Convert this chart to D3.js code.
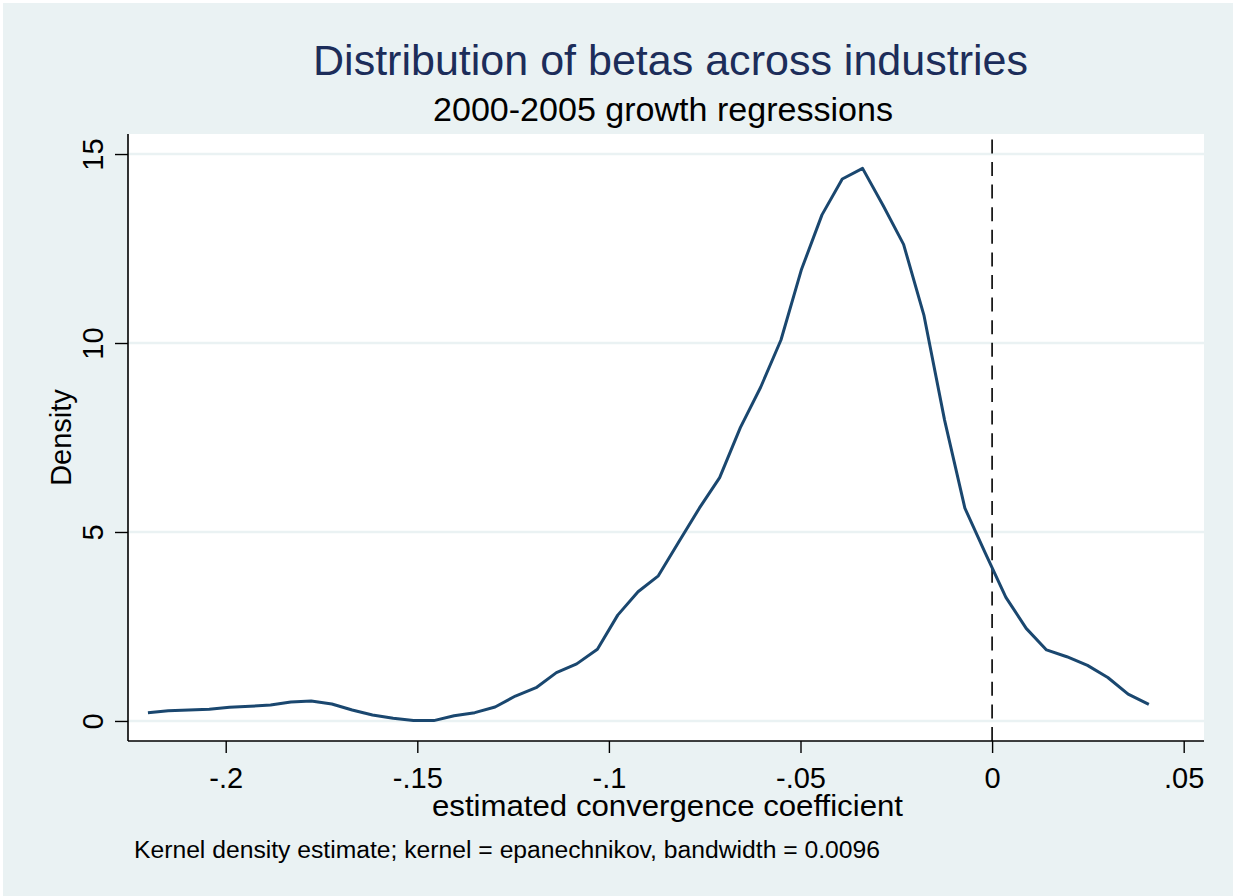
<!DOCTYPE html>
<html>
<head>
<meta charset="utf-8">
<script src="https://cdn.jsdelivr.net/npm/d3@7"></script>
<style>
  body { margin: 0; background: #ffffff; }
  svg { display: block; font-family: "Liberation Sans", Arial, sans-serif; }
</style>
</head>
<body>
<svg id="chart" width="1233" height="896"></svg>
<script>
// kernel density grid points (x) and estimated density (y)
var betaX = [-0.2203, -0.2150, -0.2096, -0.2043, -0.1990, -0.1936, -0.1883, -0.1830, -0.1777, -0.1723,
             -0.1670, -0.1617, -0.1563, -0.1510, -0.1457, -0.1404, -0.1350, -0.1297, -0.1244, -0.1190,
             -0.1137, -0.1084, -0.1030, -0.0977, -0.0924, -0.0871, -0.0817, -0.0764, -0.0711, -0.0657,
             -0.0604, -0.0551, -0.0498, -0.0444, -0.0391, -0.0338, -0.0284, -0.0231, -0.0178, -0.0124,
             -0.0071, -0.0018, 0.0036, 0.0089, 0.0142, 0.0195, 0.0249, 0.0302, 0.0355, 0.0409];
var densityY = [0.22, 0.27, 0.29, 0.31, 0.36, 0.39, 0.42, 0.50, 0.53, 0.45,
                0.29, 0.16, 0.07, 0.01, 0.01, 0.14, 0.22, 0.37, 0.66, 0.88,
                1.28, 1.51, 1.90, 2.80, 3.42, 3.84, 4.75, 5.63, 6.44, 7.76,
                8.83, 10.08, 11.93, 13.39, 14.34, 14.62, 13.63, 12.61, 10.74, 7.96,
                5.63, 4.45, 3.27, 2.45, 1.88, 1.70, 1.47, 1.15, 0.71, 0.44];

var xTicks = [-0.2, -0.15, -0.1, -0.05, 0, 0.05];
var xTickLabels = ["-.2", "-.15", "-.1", "-.05", "0", ".05"];
var yTicks = [0, 5, 10, 15];
var yTickLabels = ["0", "5", "10", "15"];
var refLineX = 0;

var titleText = "Distribution of betas across industries";
var subtitleText = "2000-2005 growth regressions";
var xTitle = "estimated convergence coefficient";
var yTitle = "Density";
var noteText = "Kernel density estimate; kernel = epanechnikov, bandwidth = 0.0096";

var bg = "#eaf2f3",
    lineColor = "#1a476f";

var plot = {left: 128, right: 1204, top: 134, bottom: 741};

var svg = d3.select("#chart");

// graph region
svg.append("rect")
    .attr("x", 3).attr("y", 3)
    .attr("width", 1230).attr("height", 893)
    .attr("fill", bg);

// plot region
svg.append("rect")
    .attr("x", plot.left).attr("y", plot.top)
    .attr("width", plot.right - plot.left).attr("height", plot.bottom - plot.top)
    .attr("fill", "#ffffff");

var x = d3.scaleLinear().domain([-0.2255, 0.0553]).range([plot.left, plot.right]);
var y = d3.scaleLinear().domain([-0.53, 15.53]).range([plot.bottom, plot.top]);

// gridlines
svg.append("g")
    .selectAll("line")
    .data(yTicks)
    .enter().append("line")
    .attr("x1", plot.left).attr("x2", plot.right)
    .attr("y1", function(d) { return y(d); })
    .attr("y2", function(d) { return y(d); })
    .attr("stroke", bg)
    .attr("stroke-width", 2.5);

// dashed reference line at zero
svg.append("line")
    .attr("x1", x(refLineX)).attr("x2", x(refLineX))
    .attr("y1", plot.bottom).attr("y2", plot.top)
    .attr("stroke", "#000")
    .attr("stroke-width", 1.6)
    .attr("stroke-dasharray", "14,8.6");

// density curve
var line = d3.line()
    .x(function(d, i) { return x(betaX[i]); })
    .y(function(d) { return y(d); });

svg.append("path")
    .datum(densityY)
    .attr("d", line)
    .attr("fill", "none")
    .attr("stroke", lineColor)
    .attr("stroke-width", 3)
    .attr("stroke-linejoin", "round");

// y axis
var yAxis = svg.append("g")
    .attr("transform", "translate(" + plot.left + ",0)")
    .call(d3.axisLeft(y)
        .tickValues(yTicks)
        .tickSize(13)
        .tickSizeOuter(0)
        .tickFormat(function(d, i) { return yTickLabels[i]; }));
yAxis.select(".domain").attr("stroke", "#000").attr("stroke-width", 1.6)
    .attr("d", "M0," + plot.bottom + "V" + plot.top);
yAxis.selectAll(".tick line").attr("stroke", "#000").attr("stroke-width", 1.4);
yAxis.selectAll(".tick text")
    .attr("font-size", 29)
    .attr("fill", "#000")
    .attr("text-anchor", "middle")
    .attr("dy", 0)
    .attr("x", 0)
    .attr("transform", "translate(-25,0) rotate(-90)");

// x axis
var xAxis = svg.append("g")
    .attr("transform", "translate(0," + plot.bottom + ")")
    .call(d3.axisBottom(x)
        .tickValues(xTicks)
        .tickSize(12)
        .tickSizeOuter(0)
        .tickFormat(function(d, i) { return xTickLabels[i]; }));
xAxis.select(".domain").attr("stroke", "#000").attr("stroke-width", 1.6)
    .attr("d", "M" + plot.left + ",0H" + plot.right);
xAxis.selectAll(".tick line").attr("stroke", "#000").attr("stroke-width", 1.4);
xAxis.selectAll(".tick text")
    .attr("font-size", 29)
    .attr("fill", "#000")
    .attr("dy", 0)
    .attr("y", 47);

// titles
svg.append("text")
    .attr("x", 313).attr("y", 75)
    .attr("font-size", 42)
    .attr("fill", "#1c2d5a")
    .attr("textLength", 715)
    .attr("lengthAdjust", "spacingAndGlyphs")
    .text(titleText);

svg.append("text")
    .attr("x", 433).attr("y", 121)
    .attr("font-size", 33)
    .attr("fill", "#000")
    .attr("textLength", 460)
    .attr("lengthAdjust", "spacingAndGlyphs")
    .text(subtitleText);

svg.append("text")
    .attr("x", 432).attr("y", 816)
    .attr("font-size", 30)
    .attr("fill", "#000")
    .attr("textLength", 471)
    .attr("lengthAdjust", "spacingAndGlyphs")
    .text(xTitle);

svg.append("text")
    .attr("transform", "translate(71," + ((plot.top + plot.bottom) / 2) + ") rotate(-90)")
    .attr("text-anchor", "middle")
    .attr("font-size", 29)
    .attr("fill", "#000")
    .text(yTitle);

svg.append("text")
    .attr("x", 134).attr("y", 858)
    .attr("font-size", 23)
    .attr("fill", "#000")
    .attr("textLength", 746)
    .attr("lengthAdjust", "spacingAndGlyphs")
    .text(noteText);
</script>
</body>
</html>
